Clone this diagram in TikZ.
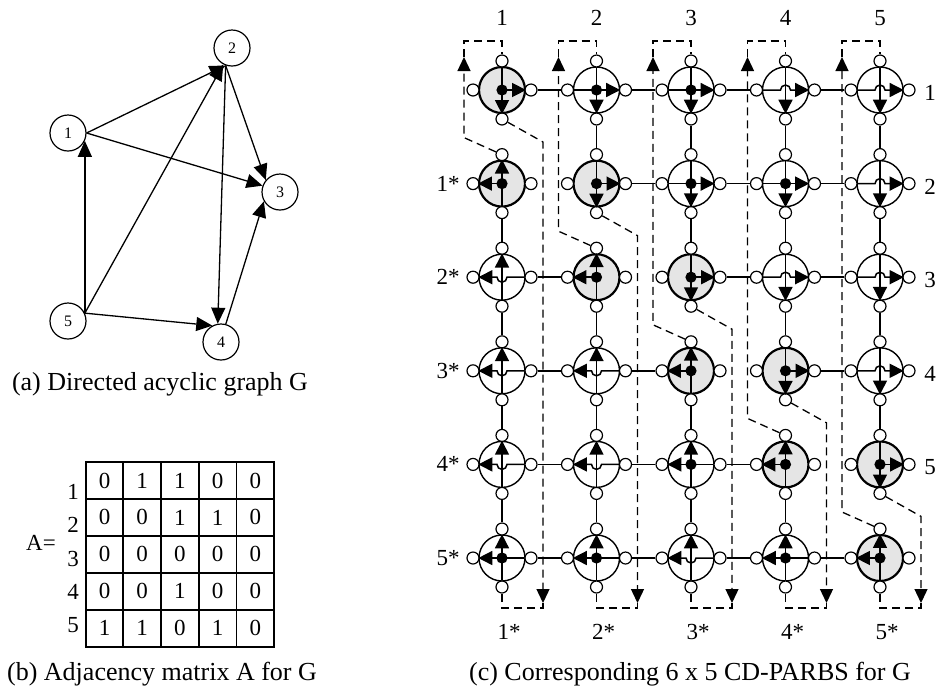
\documentclass[tikz,border=0pt]{standalone}
\usepackage{fontspec}
\setmainfont{Liberation Serif}
\usetikzlibrary{arrows.meta}

% one PARBS cell: big circle and its four ports
\newcommand{\cellat}[3]{%
  \pgfmathsetmacro\cx{502+94.5*(#2-1)}%
  \pgfmathsetmacro\cy{90+93.6*(#1-1)}%
  \node[#3] (n#1#2) at (\cx,\cy) {};
  \node[port] (n#1#2t) at (\cx,\cy-29) {};
  \node[port] (n#1#2b) at (\cx,\cy+29) {};
  \node[port] (n#1#2l) at (\cx-29,\cy) {};
  \node[port] (n#1#2r) at (\cx+29,\cy) {};
}

\begin{document}
\begin{tikzpicture}[x=0.5pt, y=-0.5pt,
  cell/.style={circle, draw, line width=0.7pt, minimum size=23pt, inner sep=0pt},
  hot/.style={cell, fill=black!10, line width=1.1pt},
  port/.style={circle, draw, fill=white, line width=0.6pt, minimum size=6pt, inner sep=0pt},
  blob/.style={circle, fill=black, minimum size=5.6pt, inner sep=0pt},
  wire/.style={line width=0.75pt},
  arr/.style={wire, -{Triangle[length=7pt, width=7pt]}},
  flow/.style={line width=0.65pt, dash pattern=on 4pt off 2.5pt},
  flowarr/.style={flow, -{Triangle[length=7pt, width=6.5pt]}},
  vx/.style={circle, draw, line width=0.6pt, minimum size=18pt, inner sep=0pt, font=\fontsize{8}{9}\selectfont},
  gedge/.style={line width=0.65pt, -{Triangle[length=8pt, width=7pt]}},
  mcell/.style={rectangle, draw, line width=0.9pt, minimum width=18.8pt, minimum height=18.5pt, inner sep=0pt, font=\fontsize{11.5}{13}\selectfont},
  lab/.style={font=\fontsize{11.5}{13}\selectfont, inner sep=0pt},
  capt/.style={font=\fontsize{13}{15}\selectfont, inner sep=0pt}]
\useasboundingbox (0,0) rectangle (942,693);

% (a) the graph
\node[vx] (g1) at (68,133) {1};
\node[vx] (g2) at (232,48) {2};
\node[vx] (g3) at (280,192) {3};
\node[vx] (g4) at (221,342) {4};
\node[vx] (g5) at (68,321) {5};
\draw[gedge] (g1.east) -- (g2.-110);
\draw[gedge] (g1.east) -- (g3.160);
\draw[gedge] (g2.-110) -- (g3.140);
\draw[gedge] (g2.-110) -- (g4.100);
\draw[gedge] (g5.25) -- (g1.-25);
\draw[gedge] (g5.25) -- (g2.-118);
\draw[gedge] (g5.25) -- (g4.118);
\draw[gedge] (g4.75) -- (g3.210);
\node[capt] (capa) at (160,384) {(a) Directed acyclic graph G};

% (b) the matrix
\node[lab] (aeq) at (41,543) {A=};
\foreach \vals [count=\i] in {{0,1,1,0,0},{0,0,1,1,0},{0,0,0,0,0},{0,0,1,0,0},{1,1,0,1,0}}{
  \node[lab] (rw\i) at (73,{492+33.3*(\i-1)}) {\i};
  \foreach \v [count=\j] in \vals
    \node[mcell] (m\i\j) at ({104.5+37.7*(\j-1)},{480.5+36.9*(\i-1)}) {\v};
}
\node[capt] (capb) at (162,674) {(b) Adjacency matrix A for G};

% (c) the cells
\foreach \row/\col in {1/1,2/2,3/3,4/4,5/5}{
  \cellat{\row}{\col}{hot}
  \draw[arr] (n\row\col t) -- (n\row\col.south);
  \draw[arr] (n\row\col.center) -- (n\row\col.east);
  \node[blob] (dot\row\col) at (n\row\col) {};
}
\foreach \row/\col in {2/1,3/2,4/3,5/4,6/5}{
  \cellat{\row}{\col}{hot}
  \draw[arr] (n\row\col b) -- (n\row\col.north);
  \draw[arr] (n\row\col.center) -- (n\row\col.west);
  \node[blob] (dot\row\col) at (n\row\col) {};
}
\foreach \row/\col in {1/2,1/3,2/3,2/4}{
  \cellat{\row}{\col}{cell}
  \draw[arr] (n\row\col t) -- (n\row\col.south);
  \draw[arr] (n\row\col l) -- (n\row\col.east);
  \node[blob] (dot\row\col) at (n\row\col) {};
}
\foreach \row/\col in {1/4,1/5,2/5,3/4,3/5,4/5}{
  \cellat{\row}{\col}{cell}
  \draw[arr] (n\row\col t) -- (n\row\col.south);
  \draw[arr] (n\row\col l) -- ([xshift=-2.5pt]n\row\col.center) arc[start angle=180, end angle=0, radius=2.5pt] -- (n\row\col.east);
}
\foreach \row/\col in {6/1,6/2,5/3,6/4}{
  \cellat{\row}{\col}{cell}
  \draw[arr] (n\row\col b) -- (n\row\col.north);
  \draw[arr] (n\row\col r) -- (n\row\col.west);
  \node[blob] (dot\row\col) at (n\row\col) {};
}
\foreach \row/\col in {3/1,4/1,5/1,4/2,5/2,6/3}{
  \cellat{\row}{\col}{cell}
  \draw[arr] (n\row\col b) -- (n\row\col.north);
  \draw[arr] (n\row\col r) -- ([xshift=2.5pt]n\row\col.center) arc[start angle=0, end angle=-180, radius=2.5pt] -- (n\row\col.west);
}

% wires between the cells
\foreach \row in {1,...,6}{
  \foreach \col [evaluate=\col as \nc using int(\col+1)] in {1,...,4}{
    \pgfmathtruncatemacro\gap{\row-1}
    \ifnum\col=\gap\else \draw[wire] (n\row\col r) -- (n\row\nc l);\fi
  }
}
\foreach \col in {1,...,5}{
  \foreach \row [evaluate=\row as \nr using int(\row+1)] in {1,...,5}{
    \ifnum\row=\col\else \draw[wire] (n\row\col b) -- (n\nr\col t);\fi
  }
}

% dashed loops, one per column
\foreach \col in {1,...,5}{
  \pgfmathtruncatemacro\nxt{\col+1}
  \pgfmathsetmacro\cx{502+94.5*(\col-1)}
  \pgfmathsetmacro\lx{\cx-38}
  \pgfmathsetmacro\rx{\cx+41}
  \pgfmathsetmacro\uy{90+93.6*\col-46}
  \pgfmathsetmacro\dy{90+93.6*(\col-1)+52}
  \coordinate (up\col a) at (\lx,\uy);
  \coordinate (up\col b) at (\lx,57);
  \coordinate (up\col c) at (\lx,41);
  \coordinate (up\col d) at (\cx,41);
  \coordinate (dn\col a) at (\rx,\dy);
  \coordinate (dn\col b) at (\rx,603);
  \coordinate (dn\col c) at (\rx,608);
  \coordinate (dn\col d) at (\cx,608);
  \draw[flowarr] (n\nxt\col t) -- (up\col a) -- (up\col b);
  \draw[flow] (up\col b) -- (up\col c) -- (up\col d) -- (n1\col t);
  \draw[flowarr] (n\col\col b) -- (dn\col a) -- (dn\col b);
  \draw[flow] (dn\col b) -- (dn\col c) -- (dn\col d) -- (n6\col b);
}

% labels
\foreach \col in {1,...,5}{
  \node[lab] (top\col) at ({502+94.5*(\col-1)},18) {\col};
  \node[lab] (bot\col) at ({509+94.5*(\col-1)},632) {\col*};
}
\foreach \row in {1,...,5}{
  \node[lab] (rgt\row) at (930,{93+93.6*(\row-1)}) {\row};
  \node[lab] (lft\row) at (448,{183.6+93.6*(\row-1)}) {\row*};
}
\node[capt] (capc) at (690,674) {(c) Corresponding 6 x 5 CD-PARBS for G};
\end{tikzpicture}
\end{document}
